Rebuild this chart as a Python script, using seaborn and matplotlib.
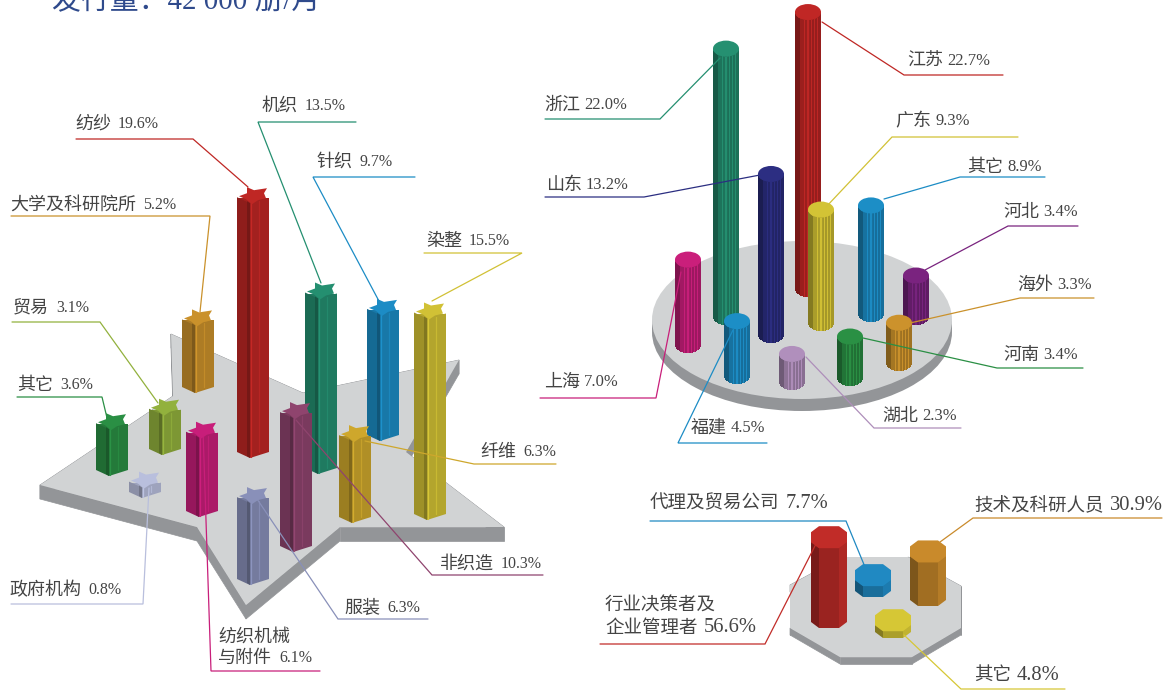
import matplotlib
matplotlib.use("Agg")
import matplotlib.pyplot as plt
import numpy as np
import seaborn as sns
from matplotlib.colors import to_rgb
from matplotlib.patches import Ellipse, Polygon

sns.set_theme(style="white")
plt.rcParams["font.family"] = ["Liberation Serif", "Noto Sans CJK SC"]

# star panel: readership by sector
sector_names = ["纺纱", "机织", "针织", "染整", "大学及科研院所", "贸易", "其它",
                "纤维", "非织造", "服装", "纺织机械\n与附件", "政府机构"]
sector_values = [19.6, 13.5, 9.7, 15.5, 5.2, 3.1, 3.6, 6.3, 10.3, 6.3, 6.1, 0.8]
sector_colors = ["#A3211F", "#1F7A60", "#1878A8", "#B3A52D", "#AD7C25", "#7D9734",
                 "#247A3A", "#B08F26", "#7A3A5E", "#757B9E", "#AB1A68", "#9EA3BD"]
# cylinder panel: readership by region
region_names = ["江苏", "浙江", "山东", "广东", "其它", "河北", "海外", "河南",
                "湖北", "福建", "上海"]
region_values = [22.7, 22.0, 13.2, 9.3, 8.9, 3.4, 3.3, 3.4, 2.3, 4.5, 7.0]
region_colors = ["#A3211F", "#1F7A60", "#25276E", "#B3A52D", "#1878A8", "#671E6C",
                 "#AD7C25", "#247A3A", "#95799F", "#1878A8", "#AB1A68"]
# octagon panel: readership by role
role_names = ["行业决策者及\n企业管理者", "技术及科研人员", "代理及贸易公司", "其它"]
role_values = [56.6, 30.9, 7.7, 4.8]
role_colors = ["#C12C28", "#C98A2B", "#2089C2", "#D6C735"]

# layout, in picture pixels
star_x = [253, 321, 383, 430, 198, 165, 112, 355, 296, 253, 202, 145]
star_base = [458, 474, 441, 520, 393, 455, 476, 523, 552, 585, 517, 498]
cyl_x = [808, 726, 771, 821, 871, 916, 899, 850, 792, 737, 688]
cyl_base = [289, 317, 335, 323, 314, 317, 363, 378, 382, 376, 345]
oct_x = [829, 928, 873, 893]
oct_base = [617, 595, 586, 627]
STAR_SCALE = 13.0
STAR_CAP = 8
CYL_SCALE = 12.2
OCT_SCALE = 1.41

star_plate = [(40, 485), (173, 396), (171, 334), (303, 393), (459, 360), (406, 452),
              (504, 527), (340, 527), (246, 605), (197, 527)]
oct_plate = [(790, 585), (842, 557), (908, 557), (961, 586), (961, 628), (912, 657),
             (840, 657), (790, 628)]
star_shape = [(-14, 1), (-6, -2), (-6, -8), (1, -5), (14, -7), (11, -2), (13, 3), (5, 5),
              (-1, 9), (-7, 4)]
oct_shape = [(-18, -5), (-10, -11), (10, -11), (18, -5), (18, 5), (10, 11), (-10, 11), (-18, 5)]

star_text = [(75, 124), (262, 106), (316, 162), (426, 241), (10, 205), (13, 308), (17, 385),
             (480, 452), (440, 564), (344, 608), (218, 658), (9, 590)]
star_lead = [[(76, 139), (193, 139), (248, 187)], [(356, 122), (258, 122), (321, 283)],
             [(415, 177), (313, 177), (380, 303)], [(424, 253), (522, 253), (432, 301)],
             [(11, 216), (210, 216), (200, 312)], [(12, 322), (100, 322), (158, 403)],
             [(17, 397), (102, 397), (108, 422)], [(556, 464), (474, 464), (365, 441)],
             [(543, 575), (432, 575), (296, 420)], [(428, 619), (338, 619), (253, 493)],
             [(320, 671), (211, 671), (203, 430)], [(11, 604), (143, 604), (149, 488)]]
cyl_text = [(907, 61), (544, 105), (546, 185), (895, 121), (967, 167), (1003, 212),
            (1017, 285), (1003, 355), (882, 416), (691, 428), (544, 382)]
cyl_lead = [[(1003, 75), (904, 75), (822, 22)], [(545, 119), (660, 119), (720, 58)],
            [(545, 197), (644, 197), (760, 175)], [(1018, 137), (892, 137), (826, 207)],
            [(1045, 177), (960, 177), (884, 199)], [(1078, 226), (1008, 226), (925, 270)],
            [(1094, 298), (1020, 298), (910, 323)], [(1083, 368), (997, 368), (863, 338)],
            [(961, 428), (874, 428), (806, 357)], [(767, 443), (678, 443), (733, 330)],
            [(540, 398), (656, 398), (681, 272)]]
oct_text = [(605, 628), (974, 505), (650, 503), (974, 675)]
oct_lead = [[(600, 644), (765, 644), (818, 540)], [(1162, 518), (973, 518), (940, 542)],
            [(650, 521), (846, 521), (865, 567)], [(1065, 689), (961, 689), (904, 635)]]

# thin bright lines on the cylinders, as strip numbers
cyl_lights = [9, 12, 13, 16, 19, 22]

GREY_TOP = "#D1D3D4"
GREY_SIDE = "#939598"


def shade(color, f):
    return tuple(np.clip(np.array(to_rgb(color)) * f, 0, 1))


def plate(ax, pts, depth):
    pts = np.array(pts, dtype=float)
    drop = pts + [0, depth]
    for i in range(len(pts)):
        j = (i + 1) % len(pts)
        ax.add_patch(Polygon([pts[i], pts[j], drop[j], drop[i]], fc=GREY_SIDE, ec=GREY_SIDE,
                             lw=0.5, zorder=1))
    ax.add_patch(Polygon(pts, fc=GREY_TOP, ec="none", zorder=1.5))


def body(ax, x, y_from, y_to, width, color, z):
    # the column itself, a bar from its foot up to its top
    sns.barplot(x=[x], y=[y_to - y_from], bottom=y_from, width=width, native_scale=True,
                color=color, saturation=1, linewidth=0, errorbar=None, zorder=z, ax=ax)


def star_column(ax, x, base, value, color, z):
    top = base - value * STAR_SCALE - STAR_CAP
    foot = base - 6
    fold = x - 3
    body(ax, x, foot, top + 3, 32, color, z)
    ax.add_patch(Polygon([(x - 16, top + 2), (fold, top + 8), (fold, base), (x - 16, foot)],
                         fc=shade(color, 0.88), ec="none", zorder=z))
    ax.add_patch(Polygon([(fold, top + 8), (x + 16, top + 3), (x + 16, foot), (fold, base)],
                         fc=color, ec="none", zorder=z))
    ax.add_patch(Polygon([(x - 6, top + 6), (fold, top + 8), (fold, base), (x - 6, base - 2)],
                         fc=shade(color, 0.72), ec="none", zorder=z))
    ax.plot([fold + 1, fold + 1], [top + 8, base - 1], color=shade(color, 1.2), lw=0.9, zorder=z)
    ax.plot([x + 6, x + 6], [top + 6, foot], color=shade(color, 1.12), lw=0.9, zorder=z)
    pts = np.array(star_shape, dtype=float) + [x, top]
    ax.add_patch(Polygon(pts, fc=shade(color, 1.17), ec="none", zorder=z + 0.1))


def cylinder(ax, x, base, value, color, z, r=13, ry=8):
    top = base - value * CYL_SCALE
    body(ax, x, base, top, 2 * r, color, z)
    offs = np.arange(-r, r) + 0.5
    rim = ry * np.sqrt(1 - (offs / r) ** 2)
    factor = np.where(offs < -8, 0.74, np.where(offs < 2, 0.95, 0.92))
    for n, (dx, d, f) in enumerate(zip(offs, rim, factor)):
        c = shade(color, 1.16 if n in cyl_lights else f)
        ax.bar(x + dx, top - base, width=1.05, bottom=base + d, color=c, lw=0, zorder=z)
    ax.add_patch(Ellipse((x, top), 2 * r, 2 * ry, fc=shade(color, 1.18), ec="none", zorder=z + 0.1))


def oct_column(ax, x, base, value, color, z):
    top = base - value * OCT_SCALE
    body(ax, x, base + 5, top + 5, 36, shade(color, 0.85), z)
    faces = [((-18, 5), (-10, 11), 0.62), ((-10, 11), (10, 11), 0.8), ((10, 11), (18, 5), 0.9)]
    for (x0, y0), (x1, y1), f in faces:
        ax.add_patch(Polygon([(x + x0, top + y0), (x + x1, top + y1),
                              (x + x1, base + y1), (x + x0, base + y0)],
                             fc=shade(color, f), ec="none", zorder=z))
    pts = np.array(oct_shape, dtype=float) + [x, top]
    ax.add_patch(Polygon(pts, fc=color, ec="none", zorder=z + 0.1))


def label(ax, name, value, pos, cjk_px, num_px, gap, lead, color):
    x, y = pos
    lines = name.split("\n")
    # wrapped labels sit on two rows, the value follows the last one
    if len(lines) == 2:
        ax.text(x, y - cjk_px * 1.2, lines[0], fontsize=cjk_px * 0.72, color="#444444",
                va="center", ha="left", family="Noto Sans CJK SC", zorder=40)
    last = lines[-1]
    ax.text(x, y, last, fontsize=cjk_px * 0.72, color="#444444", va="center", ha="left",
            family="Noto Sans CJK SC", zorder=40)
    ax.text(x + len(last) * cjk_px + gap, y, f"{value}%", fontsize=num_px * 0.72,
            color="#444444", va="center", ha="left", family="Liberation Serif", zorder=40)
    px, py = zip(*lead)
    ax.plot(px, py, color=color, lw=0.9, zorder=39, solid_joinstyle="miter")


fig = plt.figure(figsize=(11.7, 6.9), dpi=100)
ax = fig.add_axes([0, 0, 1, 1])

plate(ax, star_plate, 14)
ax.add_patch(Ellipse((802, 332), 300, 158, fc=GREY_SIDE, ec="none", zorder=1))
ax.bar(802, 12, width=300, bottom=320, color=GREY_SIDE, lw=0, zorder=1)
ax.add_patch(Ellipse((802, 320), 300, 158, fc=GREY_TOP, ec="none", zorder=1.5))
plate(ax, oct_plate, 7)

# nearer columns cover the ones behind, so draw them by foot position
for z, i in enumerate(np.argsort(star_base)):
    star_column(ax, star_x[i], star_base[i], sector_values[i], sector_colors[i], 2 + z * 0.5)
for z, i in enumerate(np.argsort(cyl_base)):
    cylinder(ax, cyl_x[i], cyl_base[i], region_values[i], region_colors[i], 2 + z * 0.5)
for z, i in enumerate(np.argsort(oct_base)):
    oct_column(ax, oct_x[i], oct_base[i], role_values[i], role_colors[i], 2 + z * 0.5)

for n, v, p, l, c in zip(sector_names, sector_values, star_text, star_lead, sector_colors):
    label(ax, n, v, p, 18, 16, 7, l, shade(c, 1.17))
for n, v, p, l, c in zip(region_names, region_values, cyl_text, cyl_lead, region_colors):
    label(ax, n, v, p, 18, 16.5, 4, l, shade(c, 1.17))
for n, v, p, l, c in zip(role_names, role_values, oct_text, oct_lead, role_colors):
    label(ax, n, v, p, 18.5, 20.5, 6, l, c)

ax.text(52, 9, "发行量：42 000 册/月", fontsize=20.8, color="#2F4A8C", va="baseline", ha="left")

ax.set_xlim(0, 1170)
ax.set_ylim(690, 0)
ax.axis("off")
fig.savefig("out.png", dpi=100)
